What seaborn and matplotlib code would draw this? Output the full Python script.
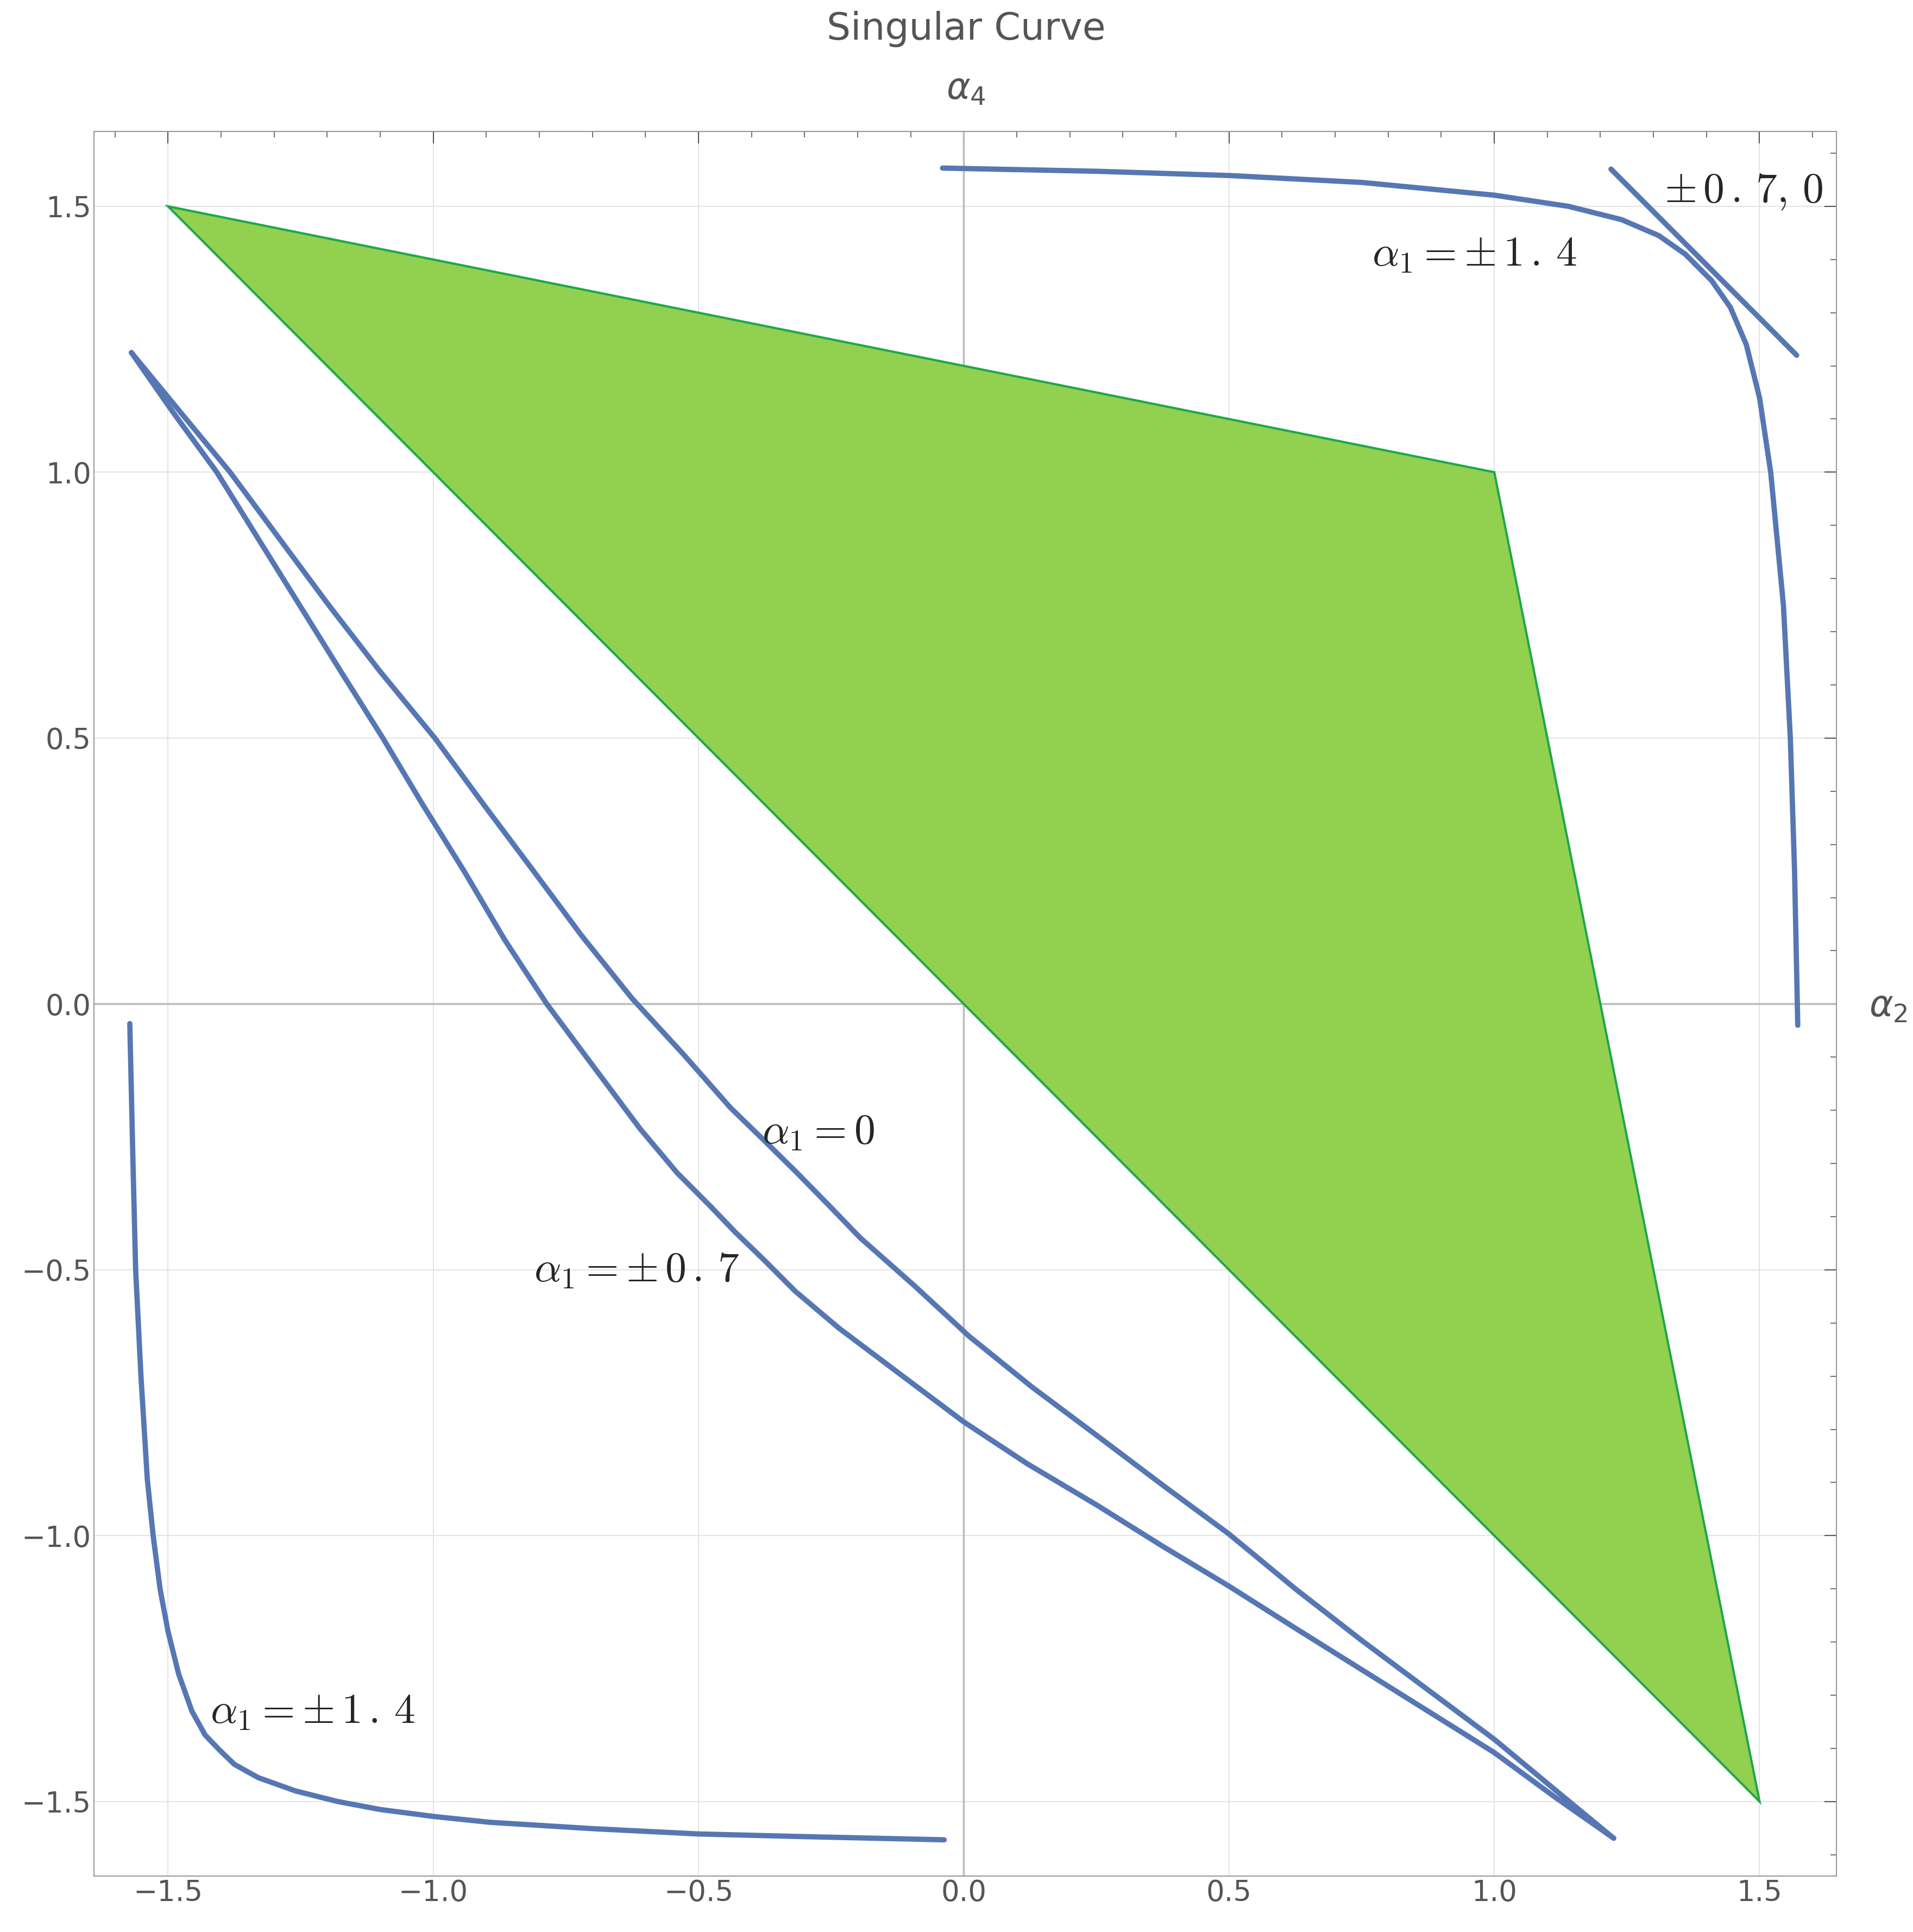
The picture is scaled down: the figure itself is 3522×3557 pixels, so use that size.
import numpy as np
import matplotlib
matplotlib.use("Agg")
import matplotlib.pyplot as plt
import seaborn as sns
from matplotlib.ticker import MultipleLocator

# half-curves (each is symmetric about y = x)
curve0_x = [-1.569, -1.48, -1.383, -1.29, -1.197, -1.10, -0.997, -0.905, -0.811, -0.72, -0.625, -0.53, -0.44, -0.376, -0.316]
curve0_y = [1.225, 1.117, 1.0, 0.875, 0.75, 0.625, 0.5, 0.375, 0.25, 0.128, 0.01, -0.093, -0.195, -0.257, -0.316]
curve07_x = [-1.569, -1.49, -1.408, -1.33, -1.252, -1.174, -1.095, -1.02, -0.942, -0.865, -0.786, -0.70, -0.61, -0.54, -0.48, -0.43]
curve07_y = [1.225, 1.112, 1.0, 0.875, 0.75, 0.625, 0.5, 0.375, 0.25, 0.12, 0.0, -0.115, -0.235, -0.318, -0.378, -0.43]
corner_x = [-1.572, -1.566, -1.561, -1.551, -1.539, -1.528, -1.515, -1.50, -1.48, -1.455, -1.43, -1.403]
corner_y = [-0.037, -0.30, -0.50, -0.70, -0.894, -1.0, -1.10, -1.18, -1.26, -1.33, -1.375, -1.403]
top_x = [1.572, 1.566, 1.558, 1.545, 1.521, 1.50, 1.475, 1.445, 1.41, 1.385]
top_y = [-0.04, 0.25, 0.50, 0.75, 1.0, 1.14, 1.24, 1.31, 1.36, 1.385]
tangent_x = [1.22, 1.57]
tangent_y = [1.57, 1.22]
poly_x = [-1.5, 1.0, 1.5]
poly_y = [1.5, 1.0, -1.5]


def mirrored(xs, ys):
    x = list(xs) + list(ys[::-1])
    y = list(ys) + list(xs[::-1])
    return np.array(x), np.array(y)


sns.set_style("white")
plt.rcParams["mathtext.fontset"] = "cm"
fig = plt.figure(figsize=(35.22, 35.57), dpi=100)
ax = fig.add_axes([0.049, 0.029, 0.911, 0.903])

blue = "#5677b3"
gray = "#555555"

ax.fill(poly_x, poly_y, facecolor="#92d050", edgecolor="#1ea84a", lw=3, zorder=2)

for xs, ys in [(curve0_x, curve0_y), (curve07_x, curve07_y), (corner_x, corner_y), (top_x, top_y)]:
    x, y = mirrored(xs, ys)
    sns.lineplot(x=x, y=y, sort=False, color=blue, lw=7, ax=ax, zorder=3)
sns.lineplot(x=tangent_x, y=tangent_y, sort=False, color=blue, lw=7, ax=ax, zorder=3)

ax.set_xlim(-1.64, 1.645)
ax.set_ylim(-1.64, 1.641)
ax.xaxis.set_major_locator(MultipleLocator(0.5))
ax.yaxis.set_major_locator(MultipleLocator(0.5))
ax.xaxis.set_minor_locator(MultipleLocator(0.1))
ax.yaxis.set_minor_locator(MultipleLocator(0.1))
ax.grid(True, which="major", color="#e4e4e4", lw=1.5, zorder=0)
ax.axhline(0, color="#bbbbbb", lw=2.5, zorder=1)
ax.axvline(0, color="#bbbbbb", lw=2.5, zorder=1)
ax.tick_params(which="both", direction="in", top=True, right=True, labelsize=38,
               colors=gray, labelcolor=gray)
ax.tick_params(which="major", length=16, width=1.5)
ax.tick_params(which="minor", length=8, width=1.2)
ax.set_xticklabels([f"{v:.1f}".replace("-", "\u2212") for v in ax.get_xticks()])
ax.set_yticklabels([f"{v:.1f}".replace("-", "\u2212") for v in ax.get_yticks()])
for s in ax.spines.values():
    s.set_color("#999999")
    s.set_linewidth(1.5)

fs = 56
ax.text(0.77, 1.41, r"$\alpha_1 = \pm\, 1\,.\,4$", fontsize=fs, va="center")
ax.text(1.32, 1.53, r"$\pm\, 0\,.\,7,\, 0$", fontsize=fs, va="center")
ax.text(-0.38, -0.24, r"$\alpha_1 = 0$", fontsize=fs, va="center")
ax.text(-0.81, -0.50, r"$\alpha_1 = \pm\, 0\,.\,7$", fontsize=fs, va="center")
ax.text(-1.42, -1.33, r"$\alpha_1 = \pm\, 1\,.\,4$", fontsize=fs, va="center")

fig.text(0.505, 0.985, "Singular Curve", ha="center", va="center", fontsize=50, color=gray)
fig.text(0.505, 0.954, r"$\alpha_4$", ha="center", va="center", fontsize=48, color=gray,
         math_fontfamily="dejavusans")
fig.text(0.987, 0.479, r"$\alpha_2$", ha="center", va="center", fontsize=48, color=gray,
         math_fontfamily="dejavusans")

fig.savefig("out.png", dpi=100)
